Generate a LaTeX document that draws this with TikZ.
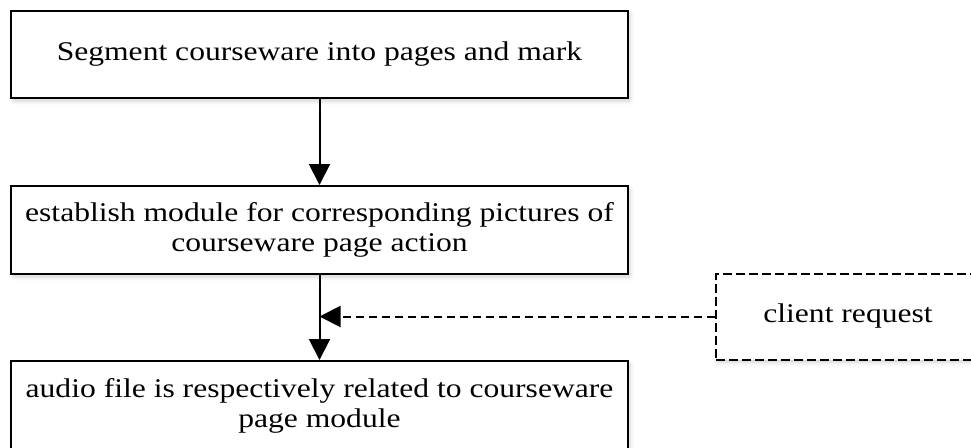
\documentclass[tikz,border=0pt]{standalone}
\usepackage{fontspec}
\setmainfont[FakeStretch=1.17]{Liberation Serif}
\usetikzlibrary{arrows.meta,shadows.blur}
\begin{document}
\begin{tikzpicture}[x=1pt,y=1pt,
  boxstyle/.style={draw=black, line width=2pt, fill=white, minimum width=617pt,
    inner sep=0pt, align=center, font=\fontsize{27}{30}\selectfont,
    blur shadow={shadow xshift=2pt, shadow yshift=-3pt, shadow blur radius=4pt, shadow opacity=18}},
  dashbox/.style={boxstyle, dash pattern=on 9pt off 4pt, minimum width=264pt},
  flow/.style={line width=2pt, -{Triangle[length=21pt,width=21pt]}},
  dflow/.style={flow, dash pattern=on 8pt off 5pt}]
\useasboundingbox (0,0) rectangle (971,-447);
\node[boxstyle, minimum height=87pt] (b1) at (319.5,-54.5) {Segment courseware into pages and mark};
\node[boxstyle, minimum height=88pt] (b2) at (319.5,-230) {establish module for corresponding pictures of\\courseware page action};
\node[boxstyle, minimum height=89pt] (b3) at (319.5,-405.5) {audio file is respectively related to courseware\\page module};
\node[dashbox, minimum height=86pt] (cr) at (848,-316.5) {client request};
\coordinate (m) at (b2.south |- cr.west);
\draw[flow] (b1.south) -- (b2.north);
\draw[flow] (b2.south) -- (b3.north);
\draw[dflow] (cr.west) -- (m);
\end{tikzpicture}
\end{document}
